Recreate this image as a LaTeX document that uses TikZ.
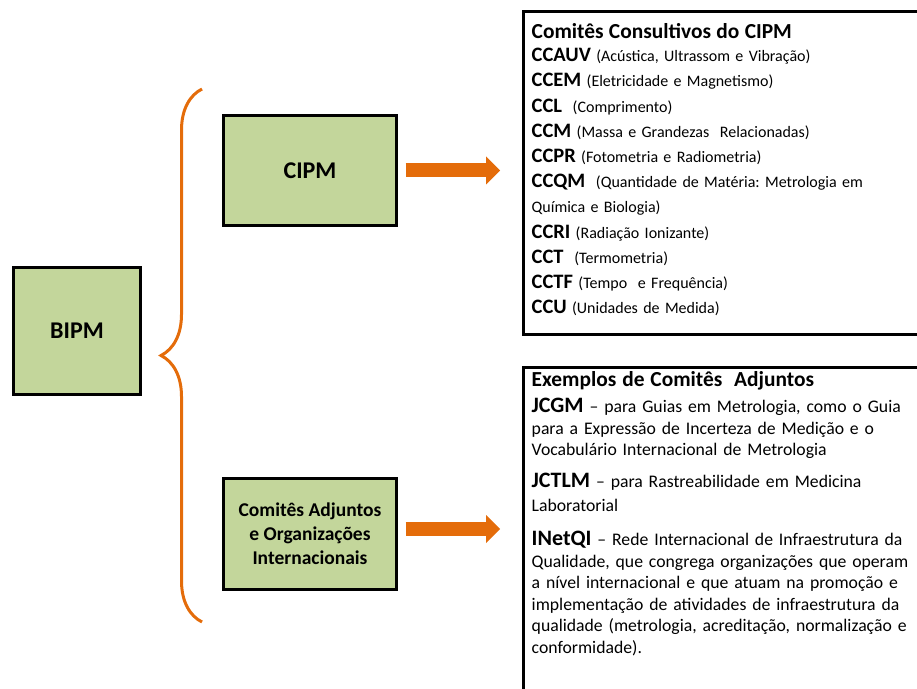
\documentclass[tikz,border=0pt]{standalone}
\usepackage{fontspec}
\setmainfont{Carlito}
\usetikzlibrary{positioning,arrows.meta,decorations.pathreplacing}
\definecolor{boxgreen}{HTML}{C3D69B}
\definecolor{bipmorange}{HTML}{E46C0A}
\frenchspacing
\newcommand{\ccode}[1]{{\fontsize{20.5}{25}\selectfont\bfseries #1}}
\newcommand{\jcode}[1]{{\fontsize{22}{25}\selectfont\bfseries #1}}
\tikzset{
  orgbox/.style={draw, line width=3pt, fill=boxgreen, align=center, inner sep=0pt,
    font=\fontsize{24}{29}\selectfont\bfseries},
  listbox/.style={draw, line width=3pt, anchor=north west, inner sep=0pt},
  listtext/.style={anchor=base west, inner sep=0pt, align=left, text width=420pt},
  bigarrow/.style={draw=bipmorange, line width=14pt,
    -{Triangle[length=14pt,width=28pt,line width=0pt]}},
}
\begin{document}
\begin{tikzpicture}[x=1pt,y=1pt]
\useasboundingbox (0,0) rectangle (917,688);
\clip (0,0) rectangle (917,688);
%
\node [orgbox, minimum width=127pt, minimum height=127pt] (bipm) at (77,357) {BIPM};
\node [orgbox, minimum width=173pt, minimum height=110pt] (cipm) at (310,517.5) {CIPM};
\node [orgbox, minimum width=173pt, minimum height=111pt,
  font=\fontsize{19.5}{24}\selectfont\bfseries] (adj) at (310,154)
  {Comitês Adjuntos\\e Organizações\\Internacionais};
%
\node [listbox, minimum width=450pt, minimum height=323pt] (cc) at (521.5,677.5) {};
\node [listbox, minimum width=450pt, minimum height=360pt] (ex) at (521.5,321.5) {};
%
\node [listtext, font=\fontsize{16}{25.2}\selectfont] (cctext)
  at ([xshift=10pt,yshift=-28pt]cc.north west)
  {{\fontsize{21.4}{25}\selectfont\bfseries Comitês Consultivos do CIPM}\\[-2pt]
  \ccode{CCAUV} (Acústica, Ultrassom e Vibração)\\
  \ccode{CCEM} (Eletricidade e Magnetismo)\\
  \ccode{CCL}~ (Comprimento)\\
  \ccode{CCM} (Massa e Grandezas~ Relacionadas)\\
  \ccode{CCPR} (Fotometria e Radiometria)\\
  \ccode{CCQM}~ (Quantidade de Matéria: Metrologia em\\
  Química e Biologia)\\
  \ccode{CCRI} (Radiação Ionizante)\\
  \ccode{CCT}~ (Termometria)\\
  \ccode{CCTF} (Tempo~ e Frequência)\\
  \ccode{CCU} (Unidades de Medida)};
%
\node [listtext, font=\fontsize{17.7}{21.6}\selectfont] (extext)
  at ([xshift=10pt,yshift=-20.5pt]ex.north west)
  {{\fontsize{21.4}{25}\selectfont\bfseries Exemplos de Comitês~ Adjuntos}\\[4pt]
  \jcode{JCGM} -- para Guias em Metrologia, como o Guia\\
  para a Expressão de Incerteza de Medição e o\\
  Vocabulário Internacional de Metrologia\\[10pt]
  \jcode{JCTLM} -- para Rastreabilidade em Medicina\\[3pt]
  Laboratorial\\[12pt]
  \jcode{INetQI} -- Rede Internacional de Infraestrutura da\\
  Qualidade, que congrega organizações que operam\\
  a nível internacional e que atuam na promoção e\\
  implementação de atividades de infraestrutura da\\
  qualidade (metrologia, acreditação, normalização e\\
  conformidade).};
%
\coordinate (bracebot) at (202,66);
\coordinate (bracetop) at (202,599);
\draw [bipmorange, line width=3pt, decorate, decoration={brace, amplitude=41pt}]
  (bracebot) -- (bracetop);
%
\draw [bigarrow, shorten <=7.5pt, shorten >=21.5pt] (cipm.east) -- (cipm.east -| cc.west);
\draw [bigarrow, shorten <=7.5pt, shorten >=21.5pt]
  ([yshift=5pt]adj.east) -- ([yshift=5pt]adj.east -| ex.west);
\end{tikzpicture}
\end{document}
